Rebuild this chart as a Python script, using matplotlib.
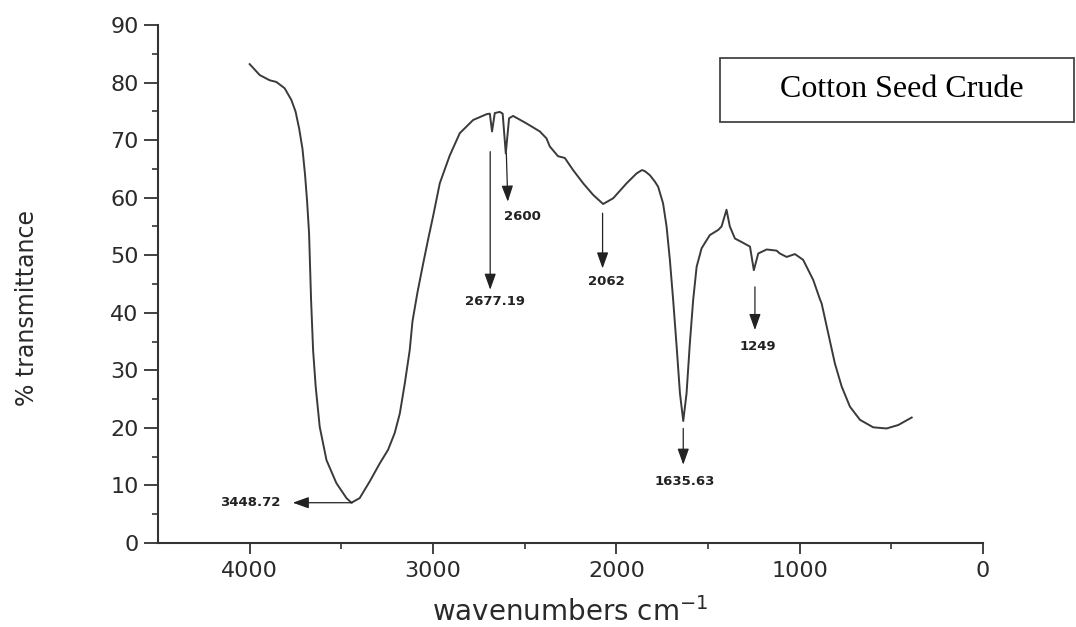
import numpy as np
import matplotlib
matplotlib.use("Agg")
import matplotlib.pyplot as plt
from matplotlib.patches import Rectangle

# FTIR spectrum (wavenumber, % transmittance)
wavenumber = [4000, 3945, 3891, 3854, 3809, 3773, 3750, 3730, 3712, 3698,
              3687, 3676, 3665, 3654, 3640, 3618, 3581, 3527, 3472, 3445,
              3400, 3345, 3291, 3245, 3209, 3181, 3154, 3127, 3112, 3085,
              3054, 3025, 3000, 2963, 2909, 2854, 2781, 2708, 2690, 2678,
              2663, 2636, 2620, 2603, 2585, 2563, 2490, 2417, 2381, 2363,
              2318, 2281, 2236, 2181, 2127, 2072, 2017, 1944, 1890, 1860,
              1844, 1817, 1790, 1772, 1745, 1726, 1708, 1690, 1671, 1653,
              1635, 1617, 1599, 1581, 1562, 1535, 1490, 1444, 1426, 1399,
              1381, 1353, 1317, 1271, 1250, 1226, 1180, 1126, 1108, 1071,
              1026, 981, 926, 890, 880, 844, 808, 771, 726, 671,
              599, 526, 462, 389]
transmittance = [83.2, 81.3, 80.4, 80.1, 79.0, 77.0, 75.0, 72.0, 68.5, 64.0,
                 59.5, 53.8, 42.2, 33.5, 27.2, 20.2, 14.4, 10.4, 7.8, 7.0,
                 7.8, 10.7, 13.8, 16.2, 19.1, 22.5, 27.7, 33.5, 38.5, 43.5,
                 48.5, 53.0, 56.7, 62.5, 67.3, 71.2, 73.5, 74.5, 74.6, 71.5,
                 74.7, 74.9, 74.6, 67.7, 73.8, 74.2, 72.9, 71.5, 70.3, 68.9,
                 67.2, 66.9, 64.8, 62.5, 60.5, 58.9, 59.9, 62.5, 64.2, 64.8,
                 64.6, 63.9, 62.8, 61.9, 59.0, 55.0, 49.2, 42.2, 34.1, 26.0,
                 21.2, 26.0, 34.7, 42.2, 48.0, 51.2, 53.5, 54.4, 55.0, 57.9,
                 55.0, 52.9, 52.3, 51.5, 47.4, 50.3, 51.0, 50.8, 50.3, 49.7,
                 50.2, 49.2, 45.7, 42.4, 41.6, 36.4, 31.2, 27.2, 23.7, 21.4,
                 20.1, 19.9, 20.5, 21.8]

# peak labels: text, arrow start (x, y), arrow tip (x, y), label centre (x, y)
peak_labels = ["3448.72", "2677.19", "2600", "2062", "1635.63", "1249"]
arrow_start = [(3440, 7.0), (2688, 68.0), (2600, 67.7), (2075, 57.3), (1635, 19.9), (1244, 44.5)]
arrow_tip = [(3765, 7.0), (2688, 44.0), (2592, 59.3), (2075, 47.7), (1635, 13.6), (1244, 37.0)]
label_pos = [(3995, 7.0), (2663, 42.0), (2513, 56.8), (2053, 45.4), (1626, 10.7), (1230, 34.1)]

title_text = "Cotton Seed Crude"


def main():
    W, H = 1076, 627
    fig = plt.figure(figsize=(W / 100, H / 100), dpi=100)
    ax = fig.add_axes([158 / W, (H - 543) / H, (983 - 158) / W, (543 - 25) / H])

    ax.plot(wavenumber, transmittance, color='#3a3a3a', linewidth=1.4)

    ax.set_xlim(4500, 0)
    ax.set_ylim(0, 90)
    ax.set_xticks([4000, 3000, 2000, 1000, 0])
    ax.set_xticks([3500, 2500, 1500, 500], minor=True)
    ax.set_yticks(np.arange(0, 91, 10))
    ax.set_yticks(np.arange(5, 90, 10), minor=True)

    for s in ['top', 'right']:
        ax.spines[s].set_visible(False)
    for s in ['left', 'bottom']:
        ax.spines[s].set_color('#333333')
        ax.spines[s].set_linewidth(1.5)

    ax.tick_params(axis='y', which='major', length=10, width=1.3, color='#333333',
                   pad=4, labelsize=16, labelcolor='#2a2a2a')
    ax.tick_params(axis='y', which='minor', length=4, width=1.2, color='#333333')
    ax.tick_params(axis='x', which='major', length=8, width=1.3, color='#333333',
                   pad=5, labelsize=16, labelcolor='#2a2a2a')
    ax.tick_params(axis='x', which='minor', length=4, width=1.2, color='#333333')

    # peak annotations
    for lab, p0, p1, pt in zip(peak_labels, arrow_start, arrow_tip, label_pos):
        ax.annotate('', xy=p1, xytext=p0,
                    arrowprops=dict(arrowstyle='-|>,head_length=0.7,head_width=0.25',
                                    color='#222222', lw=0.9, shrinkA=0, shrinkB=0,
                                    mutation_scale=14))
        ax.text(pt[0], pt[1], lab, ha='center', va='center', fontsize=9.5,
                fontweight='bold', color='#222222')

    # axis labels
    fig.text(27 / W, 1 - 308 / H, '% transmittance', rotation=90, ha='center',
             va='center', fontsize=17, color='#2a2a2a')
    fig.text(570 / W, 1 - 621 / H, 'wavenumbers cm$^{-1}$', ha='center',
             va='baseline', fontsize=20, color='#2a2a2a')

    # boxed sample name
    fig.patches.append(Rectangle((720 / W, 1 - 121.7 / H), (1074 - 720) / W, 63.4 / H,
                                 transform=fig.transFigure, fill=False,
                                 edgecolor='#444444', linewidth=1.3))
    fig.text(902 / W, 1 - 97.3 / H, title_text, ha='center', va='baseline',
             fontsize=23, family='Liberation Serif', color='black')

    fig.savefig('out.png', dpi=100)


if __name__ == "__main__":
    main()
